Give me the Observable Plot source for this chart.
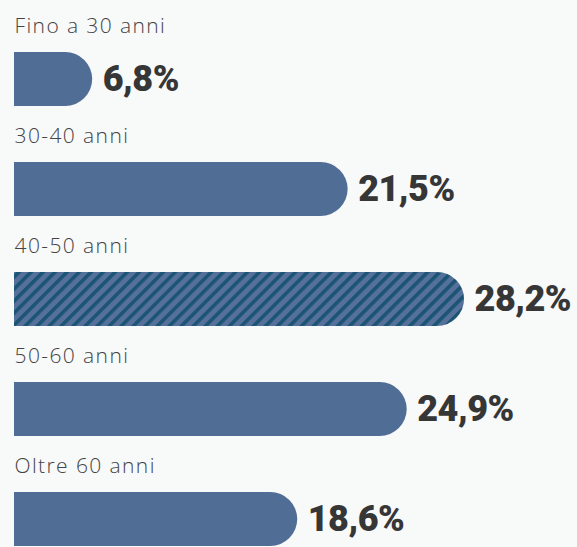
<!DOCTYPE html>
<html>
<head>
<meta charset="utf-8">
<script src="https://cdn.jsdelivr.net/npm/d3@7"></script>
<script src="https://cdn.jsdelivr.net/npm/@observablehq/plot@0.6"></script>
<style>
  html, body { margin: 0; padding: 0; background: #f8f9f9; }
  #chart svg { display: block; background: transparent; }
</style>
</head>
<body>
<div id="chart"></div>
<script>
const categories = ["Fino a 30 anni", "30-40 anni", "40-50 anni", "50-60 anni", "Oltre 60 anni"];
const values = [6.8, 21.5, 28.2, 24.9, 18.6];
const highlighted = ["40-50 anni"];

const data = categories.map((c, i) => ({category: c, value: values[i]}));
const fmt = v => v.toFixed(1).replace(".", ",") + "%";

const W = 577, H = 547;
const chart = Plot.plot({
  width: W,
  height: H,
  marginLeft: 14,
  marginRight: 0,
  marginTop: 0,
  marginBottom: 0,
  style: {background: "transparent", overflow: "visible"},
  x: {domain: [2.3, 34.7], axis: null},
  y: {domain: categories, range: [52, 550], paddingInner: 57 / 111, paddingOuter: 0, align: 0, axis: null},
  marks: [
    Plot.barX(data.filter(d => !highlighted.includes(d.category)), {
      x1: 0, x2: "value", y: "category", fill: "#506d95", rx: 27, clip: true
    }),
    Plot.barX(data.filter(d => highlighted.includes(d.category)), {
      x1: 0, x2: "value", y: "category", fill: "url(#stripes)", rx: 27, clip: true
    }),
    Plot.text(data, {
      x: 2.3, y: "category", text: "category", textAnchor: "start", lineAnchor: "middle",
      dy: -53, fontSize: 21, fontWeight: 300, fill: "#444", fontFamily: "'Open Sans', Lato, sans-serif"
    }),
    Plot.text(data, {
      x: "value", y: "category", text: d => fmt(d.value), textAnchor: "start", lineAnchor: "middle",
      dx: 10, fontSize: 36, fontWeight: 900, fill: "#363636", fontFamily: "Roboto, Lato, sans-serif"
    })
  ]
});

// widen the light category labels a little, like the reference typeface
const textGroups = chart.querySelectorAll("g[aria-label='text']");
if (textGroups[0]) textGroups[0].setAttribute("letter-spacing", "1.4");
if (textGroups[1]) textGroups[1].setAttribute("letter-spacing", "-0.5");

// stripe pattern definition
const ns = "http://www.w3.org/2000/svg";
const defs = document.createElementNS(ns, "defs");
const pat = document.createElementNS(ns, "pattern");
pat.setAttribute("id", "stripes");
pat.setAttribute("patternUnits", "userSpaceOnUse");
pat.setAttribute("width", "8.5");
pat.setAttribute("height", "8.5");
pat.setAttribute("patternTransform", "rotate(45)");
const r1 = document.createElementNS(ns, "rect");
r1.setAttribute("width", "8.5"); r1.setAttribute("height", "8.5"); r1.setAttribute("fill", "#55719b");
const r2 = document.createElementNS(ns, "rect");
r2.setAttribute("width", "3.6"); r2.setAttribute("height", "8.5"); r2.setAttribute("fill", "#1c5573");
pat.appendChild(r1); pat.appendChild(r2);
defs.appendChild(pat);
chart.insertBefore(defs, chart.firstChild);

document.getElementById("chart").appendChild(chart);
</script>
</body>
</html>
